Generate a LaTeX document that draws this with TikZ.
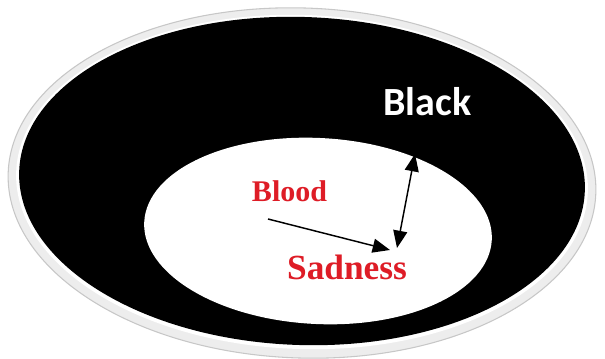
\documentclass[tikz,border=0pt]{standalone}
\usepackage{fontspec}
\usepackage{xcolor}
\usepackage{tikz}
\usetikzlibrary{arrows.meta}
\newfontfamily\calibrifont{Carlito}
\newfontfamily\timesfont{Liberation Serif}
\definecolor{labelred}{RGB}{222,28,38}

\begin{document}
\begin{tikzpicture}[x=0.75pt,y=-0.75pt,every node/.style={inner sep=0pt, outer sep=0pt, anchor=base},
  redlabel/.style={text=labelred, font=\timesfont\bfseries\fontsize{#1}{#1}\selectfont},
  link/.style={line width=1.1pt, -{Triangle[length=13pt,width=10.5pt]}}]
\useasboundingbox (0,0) rectangle (605,359);
\draw[fill=black!7,draw=black!22,line width=0.8pt] (302,183) ellipse [x radius=294, y radius=175, rotate=-2];
\fill[white] (302,182) ellipse [x radius=286, y radius=167, rotate=-2];
\fill[black] (302,181) ellipse [x radius=283, y radius=164, rotate=-2];
\fill[white] (318,231) ellipse [x radius=174, y radius=93, rotate=-3];
\node[text=white, font=\calibrifont\bfseries\fontsize{30}{36}\selectfont] (black) at (427.5,116) {Black};
\node[redlabel=22.5] (blood) at (289.5,201.5) {Blood};
\node[redlabel=26.5] (sadness) at (347,279) {Sadness};
\coordinate (bloodtail) at (268,219);
\coordinate (sadtip) at (390,250);
\coordinate (lowtip) at (397,248);
\coordinate (rimtip) at (415,154);
\draw[link] (bloodtail) -- (sadtip);
\draw[link, {Triangle[length=13pt,width=10.5pt]}-{Triangle[length=13pt,width=10.5pt]}] (lowtip) -- (rimtip);
\end{tikzpicture}
\end{document}
